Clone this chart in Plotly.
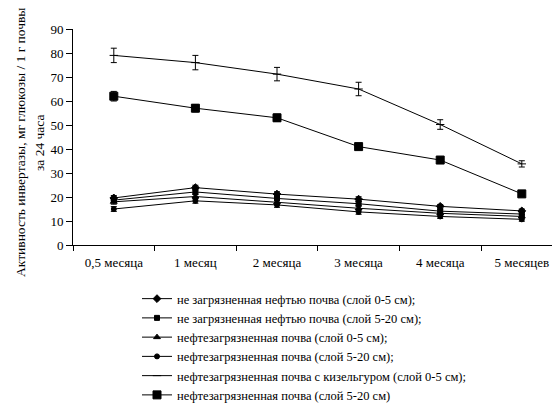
import plotly.graph_objects as go

categories = ["0,5 месяца", "1 месяц", "2 месяца", "3 месяца", "4 месяца", "5 месяцев"]

names = [
    "не загрязненная нефтью почва (слой 0-5 см);",
    "не загрязненная нефтью почва (слой 5-20 см);",
    "нефтезагрязненная почва (слой 0-5 см);",
    "нефтезагрязненная почва (слой 5-20 см);",
    "нефтезагрязненная почва с кизельгуром (слой 0-5 см);",
    "нефтезагрязненная почва (слой 5-20 см)",
]

clean_0_5 = [19.6, 23.9, 21.2, 19.1, 16.1, 14.2]
clean_5_20 = [18.7, 22.1, 19.4, 17.2, 14.1, 12.9]
oil_0_5 = [18.0, 20.2, 17.8, 15.3, 13.2, 11.9]
oil_5_20 = [15.0, 18.4, 16.7, 13.8, 11.9, 10.7]
kiesel_0_5 = [79.0, 76.0, 71.2, 65.0, 50.2, 33.8]
oil_5_20_b = [62.0, 57.0, 53.0, 41.0, 35.4, 21.3]

err_small = [1.0, 1.0, 1.0, 1.0, 0.8, 0.8]
err_kiesel = [3.0, 3.0, 2.8, 2.8, 2.0, 1.3]
err_big = [2.0, 1.5, 1.5, 1.0, 1.0, 1.0]

series = [
    (clean_0_5, err_small, "diamond", 6),
    (clean_5_20, err_small, "square", 5),
    (oil_0_5, err_small, "triangle-up", 6),
    (oil_5_20, err_small, "circle", 5),
    (kiesel_0_5, err_kiesel, "line-ew", 6),
    (oil_5_20_b, err_big, "square", 8),
]

fig = go.Figure()
for (vals, errs, sym, size), name in zip(series, names):
    fig.add_trace(go.Scatter(
        x=categories, y=vals, name=name, mode="lines+markers",
        line=dict(color="black", width=1),
        marker=dict(symbol=sym, size=size, color="black",
                    line=dict(color="black", width=1)),
        error_y=dict(type="data", array=errs, visible=True,
                     color="black", thickness=1, width=3),
    ))

font_family = "Times New Roman"
L, T, W, H = 73, 29, 552, 407
plot_w = W - L
plot_h = 245 - T

fig.update_layout(
    width=W, height=H,
    margin=dict(l=L, r=0, t=T, b=H - 245, pad=0, autoexpand=False),
    paper_bgcolor="white", plot_bgcolor="white",
    font=dict(family=font_family, color="black", size=13),
    showlegend=True,
    legend=dict(
        x=(137 - L) / plot_w, y=(245 - 284) / plot_h,
        xanchor="left", yanchor="top",
        font=dict(family=font_family, size=12.5, color="black"),
        bgcolor="rgba(0,0,0,0)", itemwidth=30,
        tracegroupgap=0,
    ),
    xaxis=dict(
        type="category", range=[-0.5, plot_w / 81.6 - 0.5],
        showline=True, linecolor="black", linewidth=1,
        ticks="outside", ticklen=5, tickcolor="black",
        tickson="boundaries", showgrid=False, zeroline=False,
        tickfont=dict(family=font_family, size=13, color="black"),
        ticklabelstandoff=5, automargin=False,
    ),
    yaxis=dict(
        range=[0, 90], dtick=10, tick0=0,
        showline=True, linecolor="black", linewidth=1,
        ticks="outside", ticklen=6, tickcolor="black",
        showgrid=False, zeroline=False, automargin=False,
        tickfont=dict(family=font_family, size=13, color="black"),
    ),
)

fig.add_annotation(
    text="Активность инвертазы, мг глюкозы / 1 г почвы",
    xref="paper", yref="paper",
    x=(20 - L) / plot_w, y=(245 - 143) / plot_h,
    xanchor="center", yanchor="middle", textangle=-90,
    showarrow=False, font=dict(family=font_family, size=13.5, color="black"),
)
fig.add_annotation(
    text="за 24 часа",
    xref="paper", yref="paper",
    x=(39 - L) / plot_w, y=(245 - 143) / plot_h,
    xanchor="center", yanchor="middle", textangle=-90,
    showarrow=False, font=dict(family=font_family, size=13.5, color="black"),
)

fig.write_html(
    "out.html",
    config={"displayModeBar": False},
    post_script="document.body.style.margin='0';document.body.style.overflow='hidden';",
)
